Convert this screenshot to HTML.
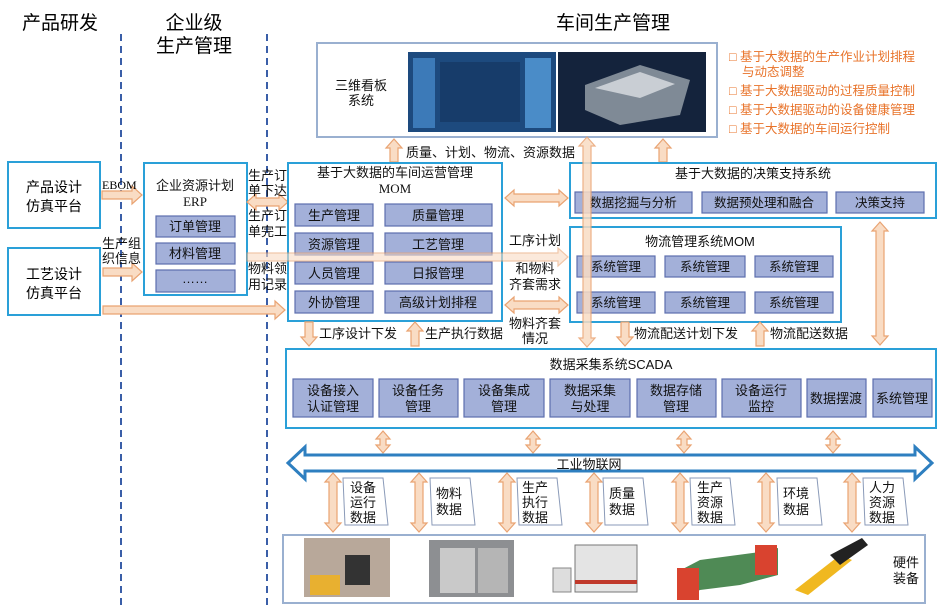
<!DOCTYPE html>
<html><head><meta charset="utf-8"><style>
html,body{margin:0;padding:0;background:#fff;}
svg{display:block;font-family:"Liberation Sans","Noto Sans CJK SC",sans-serif;}
.bx{fill:#fff;stroke:#2aa0d8;stroke-width:2;}
.it{fill:#a3b0d9;stroke:#5d6fae;stroke-width:1.2;}
.ar{fill:#f9dcc4;stroke:#e9a372;stroke-width:1.2;}
.t{font-size:13px;fill:#111;}
.s{font-size:12.5px;fill:#111;}
.m{text-anchor:middle;}
.o{font-size:12.5px;fill:#e8732a;}
.lb{fill:#fff;stroke:#8a9ab8;stroke-width:1;}
</style></head><body>
<svg width="949" height="613" viewBox="0 0 949 613">
<text x="60" y="29" class="m" style="font-size:19px">产品研发</text>
<text x="194" y="29" class="m" style="font-size:19px">企业级</text>
<text x="194" y="52" class="m" style="font-size:19px">生产管理</text>
<text x="613" y="29" class="m" style="font-size:19px">车间生产管理</text>
<line x1="121" y1="34" x2="121" y2="605" stroke="#3a5ea8" stroke-width="2" stroke-dasharray="7,5"/>
<line x1="267" y1="34" x2="267" y2="605" stroke="#3a5ea8" stroke-width="2" stroke-dasharray="7,5"/>

<rect class="bx" x="8" y="162" width="92" height="66"/>
<text x="54" y="192" class="m" style="font-size:14px">产品设计</text><text x="54" y="211" class="m" style="font-size:14px">仿真平台</text>
<rect class="bx" x="8" y="248" width="92" height="67"/>
<text x="54" y="279" class="m" style="font-size:14px">工艺设计</text><text x="54" y="298" class="m" style="font-size:14px">仿真平台</text>

<rect class="bx" x="144" y="163" width="103" height="132"/>
<text x="195" y="190" class="t m">企业资源计划</text>
<text x="195" y="206" class="t m" style="font-family:'Liberation Serif',serif">ERP</text>
<rect class="it" x="156" y="216" width="79" height="21"/><text x="195" y="231" class="t m">订单管理</text>
<rect class="it" x="156" y="243" width="79" height="21"/><text x="195" y="258" class="t m">材料管理</text>
<rect class="it" x="156" y="270" width="79" height="22"/><text x="195" y="283" class="t m">……</text>

<polygon class="ar" points="102,191 132,191 132,186 142,195 132,204 132,199 102,199"/>
<text x="102" y="189" style="font-size:12px;font-family:'Liberation Serif',serif">EBOM</text>
<polygon class="ar" points="103,268 132,268 132,263 142,272 132,281 132,276 103,276"/>
<text x="102" y="248" class="t">生产组</text><text x="102" y="263" class="t">织信息</text>
<polygon class="ar" points="103,306 275,306 275,301 285,310 275,319 275,314 103,314"/>
<polygon class="ar" points="247,202 256,194 256,198 279,198 279,194 288,202 279,210 279,206 256,206 256,210"/>
<text x="248" y="180" class="t">生产订</text><text x="248" y="195" class="t">单下达</text>
<text x="248" y="220" class="t">生产订</text><text x="248" y="236" class="t">单完工</text>
<text x="248" y="273" class="t">物料领</text><text x="248" y="289" class="t">用记录</text>

<rect x="317" y="43" width="400" height="94" fill="#fff" stroke="#9ab0d0" stroke-width="2"/>
<text x="361" y="90" class="t m">三维看板</text><text x="361" y="105" class="t m">系统</text>
<rect x="408" y="52" width="148" height="80" fill="#1d4a7e"/>
<rect x="413" y="58" width="22" height="70" fill="#3c7ab8"/>
<rect x="440" y="62" width="80" height="60" fill="#173c6a"/>
<rect x="525" y="58" width="26" height="70" fill="#4a8cc8"/>
<rect x="558" y="52" width="148" height="80" fill="#14233c"/>
<polygon points="585,85 640,65 690,80 680,115 620,125 585,110" fill="#7f8a96"/>
<polygon points="595,88 640,72 675,84 640,98" fill="#c9ced4"/>
<text x="729" y="61" class="o">□ 基于大数据的生产作业计划排程</text>
<text x="742" y="76" class="o">与动态调整</text>
<text x="729" y="95" class="o">□ 基于大数据驱动的过程质量控制</text>
<text x="729" y="114" class="o">□ 基于大数据驱动的设备健康管理</text>
<text x="729" y="133" class="o">□ 基于大数据的车间运行控制</text>

<polygon class="ar" points="394,139 402,148 398,148 398,162 390,162 390,148 386,148"/>
<polygon class="ar" points="663,139 671,148 667,148 667,162 659,162 659,148 655,148"/>
<text x="406" y="157" class="t">质量、计划、物流、资源数据</text>

<rect class="bx" x="288" y="163" width="214" height="158"/>
<text x="395" y="177" class="t m">基于大数据的车间运营管理</text>
<text x="395" y="193" class="t m" style="font-family:'Liberation Serif',serif">MOM</text>
<rect class="it" x="295" y="204" width="78" height="22"/><text x="334" y="220" class="t m">生产管理</text>
<rect class="it" x="385" y="204" width="107" height="22"/><text x="438" y="220" class="t m">质量管理</text>
<rect class="it" x="295" y="233" width="78" height="22"/><text x="334" y="249" class="t m">资源管理</text>
<rect class="it" x="385" y="233" width="107" height="22"/><text x="438" y="249" class="t m">工艺管理</text>
<rect class="it" x="295" y="262" width="78" height="22"/><text x="334" y="278" class="t m">人员管理</text>
<rect class="it" x="385" y="262" width="107" height="22"/><text x="438" y="278" class="t m">日报管理</text>
<rect class="it" x="295" y="291" width="78" height="22"/><text x="334" y="307" class="t m">外协管理</text>
<rect class="it" x="385" y="291" width="107" height="22"/><text x="438" y="307" class="t m">高级计划排程</text>
<polygon class="ar" opacity="0.6" points="247,253 558,253 558,248 568,257 558,266 558,261 247,261"/>
<polygon class="ar" points="505,198 514,190 514,194 559,194 559,190 568,198 559,206 559,202 514,202 514,206"/>
<polygon class="ar" points="505,305 514,297 514,301 559,301 559,297 568,305 559,313 559,309 514,309 514,313"/>
<text x="535" y="245" class="t m">工序计划</text>
<text x="535" y="273" class="t m">和物料</text><text x="535" y="289" class="t m">齐套需求</text>
<text x="535" y="328" class="t m">物料齐套</text><text x="535" y="343" class="t m">情况</text>

<rect class="bx" x="570" y="163" width="366" height="55"/>
<text x="753" y="178" class="t m">基于大数据的决策支持系统</text>
<rect class="it" x="575" y="192" width="117" height="21"/><text x="633" y="207" class="s m">数据挖掘与分析</text>
<rect class="it" x="702" y="192" width="125" height="21"/><text x="764" y="207" class="s m">数据预处理和融合</text>
<rect class="it" x="836" y="192" width="88" height="21"/><text x="880" y="207" class="s m">决策支持</text>

<rect class="bx" x="570" y="227" width="271" height="95"/>
<text x="700" y="246" class="t m">物流管理系统MOM</text>
<rect class="it" x="577" y="256" width="78" height="21"/><text x="616" y="271" class="s m">系统管理</text>
<rect class="it" x="665" y="256" width="80" height="21"/><text x="705" y="271" class="s m">系统管理</text>
<rect class="it" x="755" y="256" width="78" height="21"/><text x="794" y="271" class="s m">系统管理</text>
<rect class="it" x="577" y="292" width="78" height="21"/><text x="616" y="307" class="s m">系统管理</text>
<rect class="it" x="665" y="292" width="80" height="21"/><text x="705" y="307" class="s m">系统管理</text>
<rect class="it" x="755" y="292" width="78" height="21"/><text x="794" y="307" class="s m">系统管理</text>

<polygon class="ar" opacity="0.85" points="587,137 595,146 591,146 591,338 595,338 587,347 579,338 583,338 583,146 579,146"/>
<polygon class="ar" points="880,222 888,231 884,231 884,336 888,336 880,345 872,336 876,336 876,231 872,231"/>

<polygon class="ar" points="305,322 313,322 313,337 317,337 309,346 301,337 305,337"/>
<text x="319" y="338" class="t">工序设计下发</text>
<polygon class="ar" points="415,322 423,331 419,331 419,346 411,346 411,331 407,331"/>
<text x="425" y="338" class="t">生产执行数据</text>
<polygon class="ar" points="621,322 629,322 629,337 633,337 625,346 617,337 621,337"/>
<text x="634" y="338" class="t">物流配送计划下发</text>
<polygon class="ar" points="760,322 768,331 764,331 764,346 756,346 756,331 752,331"/>
<text x="770" y="338" class="t">物流配送数据</text>

<rect class="bx" x="286" y="349" width="650" height="79"/>
<text x="611" y="369" class="t m">数据采集系统SCADA</text>
<rect class="it" x="293" y="379" width="80" height="38"/><text x="333" y="395" class="t m">设备接入</text><text x="333" y="411" class="t m">认证管理</text>
<rect class="it" x="379" y="379" width="79" height="38"/><text x="418" y="395" class="t m">设备任务</text><text x="418" y="411" class="t m">管理</text>
<rect class="it" x="464" y="379" width="80" height="38"/><text x="504" y="395" class="t m">设备集成</text><text x="504" y="411" class="t m">管理</text>
<rect class="it" x="550" y="379" width="80" height="38"/><text x="590" y="395" class="t m">数据采集</text><text x="590" y="411" class="t m">与处理</text>
<rect class="it" x="637" y="379" width="79" height="38"/><text x="676" y="395" class="t m">数据存储</text><text x="676" y="411" class="t m">管理</text>
<rect class="it" x="722" y="379" width="79" height="38"/><text x="761" y="395" class="t m">设备运行</text><text x="761" y="411" class="t m">监控</text>
<rect class="it" x="807" y="379" width="59" height="38"/><text x="836" y="403" class="t m">数据摆渡</text>
<rect class="it" x="873" y="379" width="59" height="38"/><text x="902" y="403" class="t m">系统管理</text>

<polygon class="ar" points="383,431 390,439 386,439 386,445 390,445 383,453 376,445 380,445 380,439 376,439"/>
<polygon class="ar" points="533,431 540,439 536,439 536,445 540,445 533,453 526,445 530,445 530,439 526,439"/>
<polygon class="ar" points="684,431 691,439 687,439 687,445 691,445 684,453 677,445 681,445 681,439 677,439"/>
<polygon class="ar" points="833,431 840,439 836,439 836,445 840,445 833,453 826,445 830,445 830,439 826,439"/>

<polygon points="288,463 305,447 305,455 915,455 915,447 932,463 915,479 915,471 305,471 305,479" fill="#fff" stroke="#2e7fc0" stroke-width="3"/>
<text x="589" y="469" class="t m">工业物联网</text>

<g>
<polygon class="ar" points="333,473 341,482 337,482 337,523 341,523 333,532 325,523 329,523 329,482 325,482"/>
<polygon class="lb" points="343,478 383,478 388,525 345,525"/>
<text x="350" y="492" class="t">设备</text><text x="350" y="507" class="t">运行</text><text x="350" y="522" class="t">数据</text>
<polygon class="ar" points="419,473 427,482 423,482 423,523 427,523 419,532 411,523 415,523 415,482 411,482"/>
<polygon class="lb" points="430,478 470,478 475,525 432,525"/>
<text x="436" y="498" class="t">物料</text><text x="436" y="514" class="t">数据</text>
<polygon class="ar" points="507,473 515,482 511,482 511,523 515,523 507,532 499,523 503,523 503,482 499,482"/>
<polygon class="lb" points="517,478 557,478 562,525 519,525"/>
<text x="522" y="492" class="t">生产</text><text x="522" y="507" class="t">执行</text><text x="522" y="522" class="t">数据</text>
<polygon class="ar" points="594,473 602,482 598,482 598,523 602,523 594,532 586,523 590,523 590,482 586,482"/>
<polygon class="lb" points="603,478 643,478 648,525 605,525"/>
<text x="609" y="498" class="t">质量</text><text x="609" y="514" class="t">数据</text>
<polygon class="ar" points="680,473 688,482 684,482 684,523 688,523 680,532 672,523 676,523 676,482 672,482"/>
<polygon class="lb" points="690,478 730,478 735,525 692,525"/>
<text x="697" y="492" class="t">生产</text><text x="697" y="507" class="t">资源</text><text x="697" y="522" class="t">数据</text>
<polygon class="ar" points="766,473 774,482 770,482 770,523 774,523 766,532 758,523 762,523 762,482 758,482"/>
<polygon class="lb" points="777,478 817,478 822,525 779,525"/>
<text x="783" y="498" class="t">环境</text><text x="783" y="514" class="t">数据</text>
<polygon class="ar" points="852,473 860,482 856,482 856,523 860,523 852,532 844,523 848,523 848,482 844,482"/>
<polygon class="lb" points="863,478 903,478 908,525 865,525"/>
<text x="869" y="492" class="t">人力</text><text x="869" y="507" class="t">资源</text><text x="869" y="522" class="t">数据</text>
</g>

<rect x="283" y="535" width="642" height="68" fill="#fff" stroke="#9ab0d0" stroke-width="2"/>
<rect x="304" y="538" width="86" height="59" fill="#b8a89a"/>
<rect x="310" y="575" width="30" height="20" fill="#e8b030"/>
<rect x="345" y="555" width="25" height="30" fill="#333"/>
<rect x="429" y="540" width="85" height="57" fill="#8d8f92"/>
<rect x="440" y="548" width="35" height="45" fill="#c9c9c9"/>
<rect x="478" y="548" width="30" height="45" fill="#b5b5b5"/>
<rect x="575" y="545" width="62" height="47" fill="#e4e4e4" stroke="#777"/>
<rect x="575" y="580" width="62" height="4" fill="#c0392b"/>
<rect x="553" y="568" width="18" height="24" fill="#ddd" stroke="#888"/>
<polygon points="677,572 700,560 760,552 778,548 778,575 740,585 700,590 682,598" fill="#4f8a55"/>
<rect x="677" y="568" width="22" height="32" fill="#d9432f"/>
<rect x="755" y="545" width="22" height="30" fill="#d9432f"/>
<polygon points="795,590 840,555 852,560 808,595" fill="#f0b820"/>
<polygon points="830,555 862,538 868,545 840,565" fill="#222"/>
<text x="906" y="567" class="t m">硬件</text><text x="906" y="583" class="t m">装备</text>
</svg>
</body></html>
